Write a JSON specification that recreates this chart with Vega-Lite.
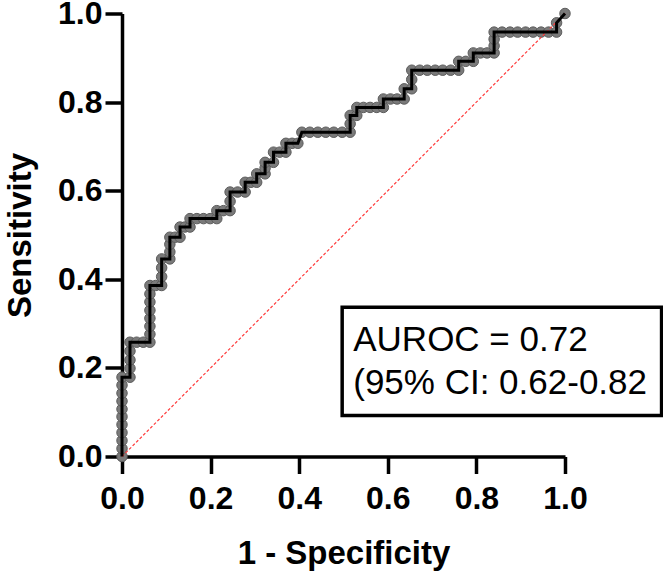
{
  "$schema": "https://vega.github.io/schema/vega-lite/v6.json",
  "width": 443,
  "height": 443,
  "autosize": "none",
  "padding": {"left": 122, "top": 13.5, "right": 98, "bottom": 116.5},
  "background": "white",
  "config": {
    "view": {"stroke": null},
    "axis": {
      "grid": false,
      "labelFlush": false,
      "domainColor": "black",
      "domainWidth": 3.5,
      "tickColor": "black",
      "tickWidth": 3.5,
      "tickSize": 17,
      "labelFont": "Liberation Sans",
      "labelFontWeight": "bold",
      "labelFontSize": 32,
      "labelColor": "black",
      "titleFont": "Liberation Sans",
      "titleFontWeight": "bold",
      "titleFontSize": 33,
      "titleColor": "black"
    }
  },
  "datasets": {
    "roc": [
      {"fpr": 0, "sens": 0}, {"fpr": 0, "sens": 0.018}, {"fpr": 0, "sens": 0.036}, {"fpr": 0, "sens": 0.054},
      {"fpr": 0, "sens": 0.072}, {"fpr": 0, "sens": 0.09}, {"fpr": 0, "sens": 0.107}, {"fpr": 0, "sens": 0.125},
      {"fpr": 0, "sens": 0.143}, {"fpr": 0, "sens": 0.161}, {"fpr": 0, "sens": 0.179},
      {"fpr": 0.018, "sens": 0.179}, {"fpr": 0.018, "sens": 0.199}, {"fpr": 0.018, "sens": 0.218}, {"fpr": 0.018, "sens": 0.238}, {"fpr": 0.018, "sens": 0.258},
      {"fpr": 0.033, "sens": 0.258}, {"fpr": 0.048, "sens": 0.258}, {"fpr": 0.063, "sens": 0.258},
      {"fpr": 0.063, "sens": 0.276}, {"fpr": 0.063, "sens": 0.294}, {"fpr": 0.063, "sens": 0.312}, {"fpr": 0.063, "sens": 0.33},
      {"fpr": 0.063, "sens": 0.349}, {"fpr": 0.063, "sens": 0.367}, {"fpr": 0.063, "sens": 0.386},
      {"fpr": 0.076, "sens": 0.386}, {"fpr": 0.0895, "sens": 0.386},
      {"fpr": 0.0895, "sens": 0.406}, {"fpr": 0.0895, "sens": 0.426}, {"fpr": 0.0895, "sens": 0.446},
      {"fpr": 0.108, "sens": 0.446}, {"fpr": 0.108, "sens": 0.462}, {"fpr": 0.108, "sens": 0.479}, {"fpr": 0.108, "sens": 0.495},
      {"fpr": 0.12, "sens": 0.495}, {"fpr": 0.131, "sens": 0.495}, {"fpr": 0.131, "sens": 0.518},
      {"fpr": 0.142, "sens": 0.518}, {"fpr": 0.1535, "sens": 0.518}, {"fpr": 0.1535, "sens": 0.537},
      {"fpr": 0.169, "sens": 0.537}, {"fpr": 0.184, "sens": 0.537}, {"fpr": 0.199, "sens": 0.537}, {"fpr": 0.214, "sens": 0.537},
      {"fpr": 0.214, "sens": 0.555}, {"fpr": 0.229, "sens": 0.555}, {"fpr": 0.244, "sens": 0.555},
      {"fpr": 0.244, "sens": 0.576}, {"fpr": 0.244, "sens": 0.597},
      {"fpr": 0.261, "sens": 0.597}, {"fpr": 0.278, "sens": 0.597}, {"fpr": 0.278, "sens": 0.619},
      {"fpr": 0.291, "sens": 0.619}, {"fpr": 0.304, "sens": 0.619}, {"fpr": 0.304, "sens": 0.638},
      {"fpr": 0.323, "sens": 0.638}, {"fpr": 0.323, "sens": 0.651}, {"fpr": 0.323, "sens": 0.664},
      {"fpr": 0.342, "sens": 0.664}, {"fpr": 0.342, "sens": 0.687},
      {"fpr": 0.356, "sens": 0.687}, {"fpr": 0.37, "sens": 0.687}, {"fpr": 0.37, "sens": 0.707},
      {"fpr": 0.384, "sens": 0.707}, {"fpr": 0.397, "sens": 0.707}, {"fpr": 0.406, "sens": 0.732},
      {"fpr": 0.424, "sens": 0.732}, {"fpr": 0.442, "sens": 0.732}, {"fpr": 0.46, "sens": 0.732}, {"fpr": 0.478, "sens": 0.732},
      {"fpr": 0.497, "sens": 0.732}, {"fpr": 0.515, "sens": 0.732},
      {"fpr": 0.515, "sens": 0.751}, {"fpr": 0.515, "sens": 0.77}, {"fpr": 0.53, "sens": 0.77}, {"fpr": 0.53, "sens": 0.788},
      {"fpr": 0.545, "sens": 0.788}, {"fpr": 0.56, "sens": 0.788}, {"fpr": 0.575, "sens": 0.788}, {"fpr": 0.59, "sens": 0.788},
      {"fpr": 0.59, "sens": 0.807}, {"fpr": 0.606, "sens": 0.807}, {"fpr": 0.621, "sens": 0.807}, {"fpr": 0.637, "sens": 0.807},
      {"fpr": 0.637, "sens": 0.83}, {"fpr": 0.654, "sens": 0.83}, {"fpr": 0.654, "sens": 0.851}, {"fpr": 0.654, "sens": 0.872},
      {"fpr": 0.672, "sens": 0.872}, {"fpr": 0.689, "sens": 0.872}, {"fpr": 0.707, "sens": 0.872}, {"fpr": 0.724, "sens": 0.872},
      {"fpr": 0.742, "sens": 0.872}, {"fpr": 0.76, "sens": 0.872}, {"fpr": 0.76, "sens": 0.892},
      {"fpr": 0.776, "sens": 0.892}, {"fpr": 0.793, "sens": 0.892}, {"fpr": 0.793, "sens": 0.911},
      {"fpr": 0.809, "sens": 0.911}, {"fpr": 0.824, "sens": 0.911}, {"fpr": 0.84, "sens": 0.911},
      {"fpr": 0.84, "sens": 0.927}, {"fpr": 0.84, "sens": 0.942}, {"fpr": 0.84, "sens": 0.958},
      {"fpr": 0.858, "sens": 0.958}, {"fpr": 0.876, "sens": 0.958}, {"fpr": 0.893, "sens": 0.958}, {"fpr": 0.911, "sens": 0.958},
      {"fpr": 0.928, "sens": 0.958}, {"fpr": 0.946, "sens": 0.958}, {"fpr": 0.963, "sens": 0.958}, {"fpr": 0.981, "sens": 0.958},
      {"fpr": 0.981, "sens": 0.979}, {"fpr": 1.0, "sens": 1.0}
    ]
  },
  "layer": [
    {
      "data": {"name": "roc"},
      "mark": {"type": "point", "shape": "circle", "filled": true, "size": 110, "fill": "#7a7a7a", "opacity": 1, "stroke": "#5c5c5c", "strokeWidth": 1},
      "encoding": {
        "x": {"field": "fpr", "type": "quantitative", "scale": {"domain": [0, 1], "nice": false, "zero": false},
              "axis": {"title": "1 - Specificity", "values": [0, 0.2, 0.4, 0.6, 0.8, 1.0], "format": ".1f", "labelPadding": 10, "titlePadding": 23}},
        "y": {"field": "sens", "type": "quantitative", "scale": {"domain": [0, 1], "nice": false, "zero": false},
              "axis": {"title": "Sensitivity", "values": [0, 0.2, 0.4, 0.6, 0.8, 1.0], "format": ".1f", "labelPadding": 3, "titlePadding": 20}}
      }
    },
    {
      "data": {"values": [{}]},
      "mark": {"type": "rule", "color": "#ff3b3b", "strokeWidth": 1.2, "strokeDash": [3, 2]},
      "encoding": {
        "x": {"datum": 0, "type": "quantitative"},
        "y": {"datum": 0, "type": "quantitative"},
        "x2": {"datum": 1},
        "y2": {"datum": 1}
      }
    },
    {
      "data": {"name": "roc"},
      "mark": {"type": "line", "color": "black", "strokeWidth": 3},
      "encoding": {
        "x": {"field": "fpr", "type": "quantitative"},
        "y": {"field": "sens", "type": "quantitative"},
        "order": {"value": null}
      }
    },
    {
      "data": {"values": [{}]},
      "mark": {"type": "rect", "fill": "white", "stroke": "black", "strokeWidth": 3.5},
      "encoding": {
        "x": {"datum": 0.497, "type": "quantitative"},
        "x2": {"datum": 1.218},
        "y": {"datum": 0.337, "type": "quantitative"},
        "y2": {"datum": 0.0926}
      }
    },
    {
      "data": {"values": [{}]},
      "mark": {"type": "text", "text": "AUROC = 0.72", "font": "Liberation Sans", "fontSize": 35, "color": "black", "align": "left", "baseline": "alphabetic"},
      "encoding": {
        "x": {"datum": 0.522, "type": "quantitative"},
        "y": {"datum": 0.239, "type": "quantitative"}
      }
    },
    {
      "data": {"values": [{}]},
      "mark": {"type": "text", "text": "(95% CI: 0.62-0.82", "font": "Liberation Sans", "fontSize": 35, "color": "black", "align": "left", "baseline": "alphabetic"},
      "encoding": {
        "x": {"datum": 0.522, "type": "quantitative"},
        "y": {"datum": 0.1415, "type": "quantitative"}
      }
    }
  ]
}
